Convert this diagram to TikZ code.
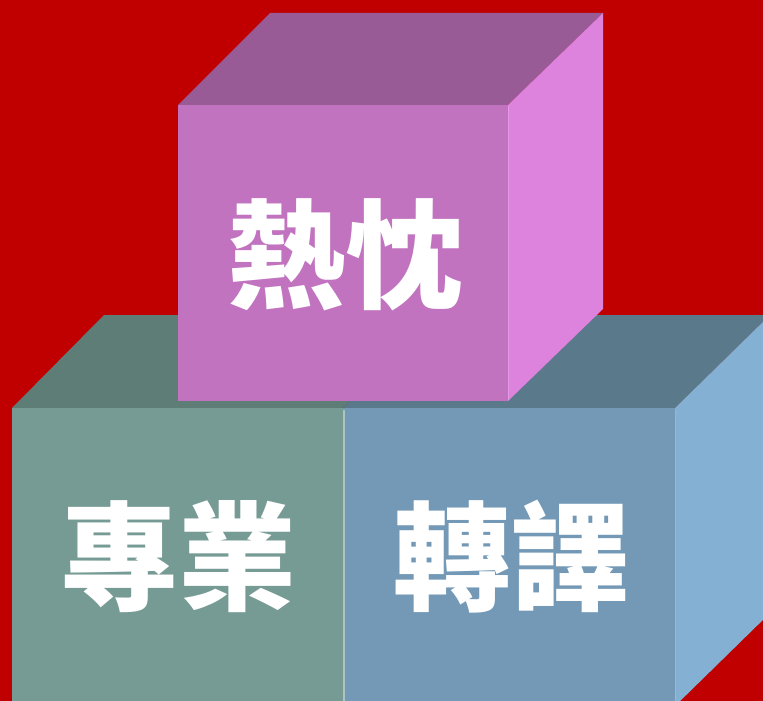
\documentclass[tikz,border=0pt]{standalone}
\usepackage{fontspec}
\newfontfamily\cjk{Noto Sans CJK TC}
\definecolor{bgred}{HTML}{C00000}
\definecolor{pinkfront}{HTML}{C173C0}
\definecolor{pinktop}{HTML}{985B96}
\definecolor{pinkside}{HTML}{DD82DD}
\definecolor{greenfront}{HTML}{769B94}
\definecolor{greentop}{HTML}{5E7D77}
\definecolor{bluefront}{HTML}{7399B6}
\definecolor{bluetop}{HTML}{5A7A8C}
\definecolor{blueside}{HTML}{83B0D3}
\tikzset{
  facefill/.style={fill=#1, draw=none},
  cubelabel/.style={text=white, font=\cjk\bfseries\fontsize{118}{118}\selectfont, inner sep=0pt, anchor=center}
}
\begin{document}
\begin{tikzpicture}[x=1pt,y=-1pt]
\useasboundingbox (0,0) rectangle (763,701);
\fill[bgred] (0,0) rectangle (763,701);
\begin{scope}
\clip (0,0) rectangle (763,701);
% green cube (left back)
\fill[facefill=greentop] (12,408) -- (104,315) -- (437,315) -- (343,408) -- cycle;
\fill[facefill=greenfront] (12,408) rectangle (343,710);
% blue cube (right back)
\fill[facefill=bluetop] (343,408) -- (437,315) -- (770,315) -- (675,408) -- cycle;
\fill[facefill=blueside] (675,408) -- (770,315) -- (770,613) -- (675,706) -- cycle;
\fill[facefill=bluefront] (343,408) rectangle (675,710);
\draw[color=greenfront!60!white, line width=1.5pt] (344,410) -- (344,701);
\draw[color=bluefront!70!white, line width=0.8pt] (675,410) -- (675,701);
% pink cube (top)
\fill[facefill=pinktop] (178,105) -- (270,13) -- (603,13) -- (508,105) -- cycle;
\fill[facefill=pinkside] (508,105) -- (603,13) -- (603,309) -- (508,401) -- cycle;
\fill[facefill=pinkfront] (178,105) rectangle (508,401);
\draw[color=pinkside!80!white, line width=0.8pt] (508,106) -- (508,400);
\end{scope}
\node[cubelabel] (re) at (345,255) {熱忱};
\node[cubelabel] (zy) at (178,557) {專業};
\node[cubelabel] (zhy) at (511,557) {轉譯};
\end{tikzpicture}
\end{document}
